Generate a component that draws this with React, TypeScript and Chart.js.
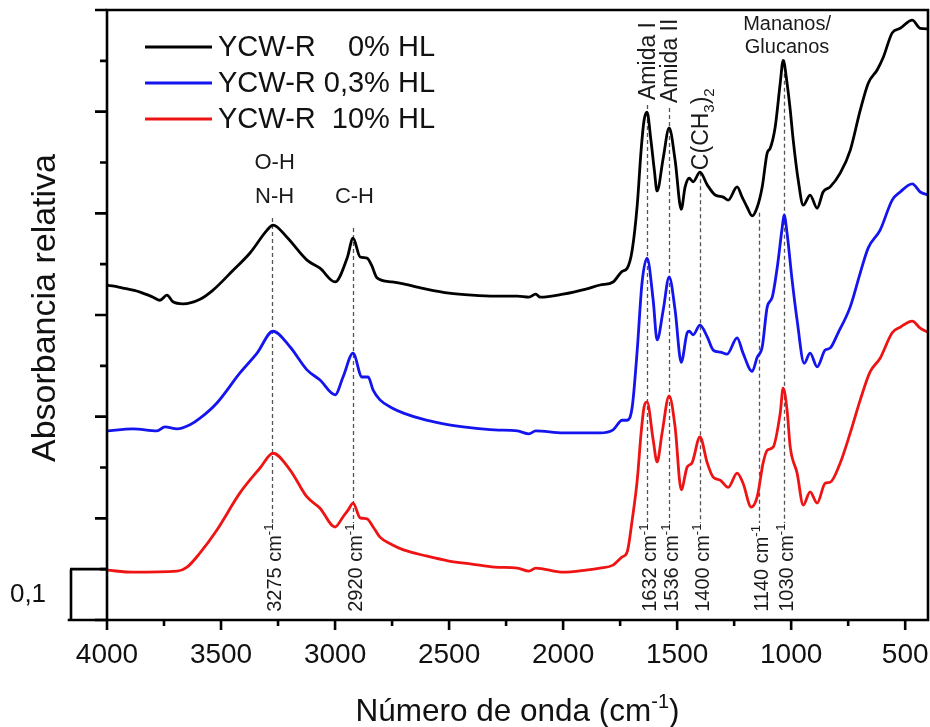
import React, { useEffect, useRef } from 'react';
import { Chart, registerables } from 'chart.js';

Chart.register(...registerables);

const FONT = "'Liberation Sans', Arial, Helvetica, sans-serif";

// ---------------- data ----------------
const seriesLabels = ['YCW-R    0% HL', 'YCW-R 0,3% HL', 'YCW-R  10% HL'];
const seriesColors = ['#000000', '#1414ee', '#ee1414'];

const blackWavenumbers = [4000, 3930, 3855, 3798, 3768, 3737, 3711, 3667, 3592, 3535, 3447, 3373, 3298, 3272, 3211, 3123, 3066, 3000, 2947, 2921, 2890, 2860, 2840, 2816, 2750, 2700, 2600, 2500, 2400, 2300, 2200, 2150, 2120, 2100, 2000, 1900, 1838, 1781, 1741, 1719, 1697, 1675, 1658, 1645, 1632, 1615, 1600, 1588, 1561, 1535, 1509, 1482, 1465, 1447, 1430, 1400, 1368, 1333, 1298, 1276, 1237, 1215, 1193, 1171, 1149, 1127, 1105, 1092, 1070, 1048, 1035, 1018, 1004, 991, 969, 947, 917, 886, 860, 829, 785, 741, 697, 662, 623, 596, 557, 522, 469, 434, 400];
const blackAbsorbance = [0.659, 0.653, 0.645, 0.635, 0.629, 0.639, 0.626, 0.622, 0.631, 0.649, 0.688, 0.722, 0.767, 0.777, 0.753, 0.708, 0.692, 0.665, 0.712, 0.751, 0.714, 0.712, 0.698, 0.673, 0.665, 0.661, 0.651, 0.643, 0.639, 0.637, 0.637, 0.635, 0.641, 0.635, 0.641, 0.651, 0.659, 0.665, 0.686, 0.692, 0.728, 0.816, 0.924, 0.983, 0.999, 0.944, 0.885, 0.844, 0.909, 0.968, 0.905, 0.808, 0.852, 0.869, 0.862, 0.881, 0.856, 0.836, 0.832, 0.826, 0.852, 0.832, 0.812, 0.795, 0.812, 0.852, 0.919, 0.928, 0.970, 1.056, 1.101, 1.056, 1.003, 0.944, 0.865, 0.816, 0.836, 0.810, 0.842, 0.852, 0.879, 0.924, 1.003, 1.056, 1.082, 1.107, 1.155, 1.164, 1.180, 1.164, 1.163];

const blueWavenumbers = [4000, 3886, 3781, 3746, 3693, 3636, 3592, 3518, 3417, 3342, 3272, 3197, 3123, 3066, 3000, 2965, 2921, 2882, 2855, 2833, 2803, 2750, 2700, 2600, 2500, 2400, 2300, 2200, 2150, 2120, 2000, 1900, 1838, 1781, 1741, 1719, 1697, 1675, 1654, 1632, 1605, 1588, 1561, 1535, 1509, 1482, 1456, 1447, 1430, 1400, 1368, 1342, 1311, 1281, 1237, 1211, 1171, 1149, 1127, 1105, 1083, 1061, 1039, 1031, 1018, 996, 974, 943, 917, 886, 851, 829, 794, 741, 697, 662, 610, 557, 522, 469, 434, 400];
const blueAbsorbance = [0.372, 0.376, 0.372, 0.380, 0.376, 0.384, 0.397, 0.427, 0.486, 0.525, 0.568, 0.537, 0.492, 0.472, 0.443, 0.478, 0.525, 0.478, 0.478, 0.452, 0.433, 0.417, 0.407, 0.393, 0.384, 0.378, 0.374, 0.372, 0.366, 0.372, 0.368, 0.368, 0.368, 0.374, 0.393, 0.393, 0.419, 0.531, 0.663, 0.712, 0.629, 0.551, 0.610, 0.675, 0.610, 0.507, 0.565, 0.568, 0.561, 0.580, 0.557, 0.531, 0.527, 0.523, 0.555, 0.525, 0.489, 0.517, 0.537, 0.616, 0.635, 0.694, 0.773, 0.797, 0.761, 0.669, 0.590, 0.505, 0.525, 0.498, 0.531, 0.535, 0.565, 0.616, 0.683, 0.732, 0.767, 0.826, 0.842, 0.858, 0.842, 0.836];

const redWavenumbers = [4000, 3886, 3693, 3649, 3592, 3518, 3417, 3329, 3272, 3197, 3123, 3066, 3000, 2965, 2943, 2921, 2890, 2860, 2833, 2803, 2750, 2700, 2600, 2500, 2400, 2300, 2200, 2150, 2120, 2000, 1900, 1838, 1781, 1741, 1719, 1697, 1675, 1658, 1645, 1632, 1605, 1588, 1566, 1535, 1509, 1482, 1456, 1435, 1400, 1368, 1342, 1311, 1276, 1237, 1211, 1175, 1149, 1123, 1105, 1079, 1048, 1035, 1018, 1004, 974, 947, 917, 886, 851, 829, 785, 741, 697, 654, 610, 557, 522, 469, 434, 400];
const redAbsorbance = [0.098, 0.094, 0.096, 0.104, 0.132, 0.177, 0.250, 0.299, 0.328, 0.295, 0.242, 0.220, 0.183, 0.203, 0.216, 0.230, 0.201, 0.199, 0.183, 0.163, 0.148, 0.138, 0.126, 0.116, 0.110, 0.104, 0.102, 0.096, 0.102, 0.094, 0.098, 0.102, 0.108, 0.124, 0.134, 0.197, 0.275, 0.368, 0.419, 0.429, 0.354, 0.311, 0.368, 0.441, 0.380, 0.256, 0.301, 0.309, 0.360, 0.309, 0.281, 0.275, 0.261, 0.289, 0.269, 0.222, 0.242, 0.309, 0.334, 0.340, 0.407, 0.456, 0.413, 0.340, 0.289, 0.226, 0.252, 0.230, 0.269, 0.271, 0.309, 0.368, 0.433, 0.488, 0.515, 0.565, 0.576, 0.588, 0.574, 0.566];

// axis ticks
const xTickValues = [4000, 3500, 3000, 2500, 2000, 1500, 1000, 500];
const xMinorTickValues = [3750, 3250, 2750, 2250, 1750, 1250, 750];
const yTickValues = [0, 0.1, 0.2, 0.3, 0.4, 0.5, 0.6, 0.7, 0.8, 0.9, 1.0, 1.1, 1.2];

// peak annotations (wavenumber, top of dashed guide in absorbance units)
const peakPositions = [3275, 2920, 1632, 1536, 1400, 1140, 1030];
const peakGuideTops = [0.791, 0.771, 1.013, 1.007, 0.881, 0.801, 1.102];
const peakGuideBottom = 0.191;
const peakLabelStart = 0.016;

// band assignment labels
const horizontalBandLabels = [
  { text: 'O-H', x: 3265, y: 0.899, size: 22 },
  { text: 'N-H', x: 3265, y: 0.832, size: 22 },
  { text: 'C-H', x: 2915, y: 0.832, size: 22 },
  { text: 'Mananos/', x: 1018, y: 1.171, size: 20 },
  { text: 'Glucanos', x: 1018, y: 1.127, size: 20 },
];

type Piece = { t: string; k?: 'sup' | 'sub' };
const verticalBandLabels: { pieces: Piece[]; x: number; y: number }[] = [
  { pieces: [{ t: 'Amida I' }], x: 1632, y: 1.023 },
  { pieces: [{ t: 'Amida II' }], x: 1536, y: 1.017 },
  { pieces: [{ t: 'C(CH' }, { t: '3', k: 'sub' }, { t: ')' }, { t: '2', k: 'sub' }], x: 1400, y: 0.885 },
];

const scaleBarValue = 0.1;
const scaleBarLabel = '0,1';

function drawRich(
  ctx: CanvasRenderingContext2D,
  pieces: Piece[],
  x: number,
  y: number,
  size: number,
  angle: number,
  align: 'left' | 'center',
  baseline: CanvasTextBaseline = 'alphabetic'
) {
  ctx.save();
  ctx.translate(x, y);
  ctx.rotate(angle);
  ctx.textBaseline = baseline;
  ctx.textAlign = 'left';
  const fontFor = (p: Piece) => `${p.k ? Math.round(size * 0.65) : size}px ${FONT}`;
  let total = 0;
  const widths = pieces.map((p) => {
    ctx.font = fontFor(p);
    const w = ctx.measureText(p.t).width;
    total += w;
    return w;
  });
  let cx = align === 'center' ? -total / 2 : 0;
  pieces.forEach((p, i) => {
    ctx.font = fontFor(p);
    const dy = p.k === 'sup' ? -size * 0.42 : p.k === 'sub' ? size * 0.28 : 0;
    ctx.fillText(p.t, cx, dy);
    cx += widths[i];
  });
  ctx.restore();
}

const decorPlugin = {
  id: 'ftirDecor',
  beforeDatasetsDraw(chart: any) {
    const { ctx, scales } = chart;
    const x = scales.x;
    const y = scales.y;
    ctx.save();
    ctx.strokeStyle = '#555555';
    ctx.lineWidth = 1.3;
    ctx.setLineDash([4, 3]);
    peakPositions.forEach((p, i) => {
      const px = Math.round(x.getPixelForValue(p)) + 0.5;
      ctx.beginPath();
      ctx.moveTo(px, y.getPixelForValue(peakGuideTops[i]));
      ctx.lineTo(px, y.getPixelForValue(peakGuideBottom));
      ctx.stroke();
    });
    ctx.restore();
  },
  afterDraw(chart: any) {
    const { ctx, chartArea, scales } = chart;
    const x = scales.x;
    const y = scales.y;
    const { left, right, top, bottom } = chartArea;
    ctx.save();
    ctx.strokeStyle = '#000';
    ctx.lineWidth = 2.6;
    ctx.lineCap = 'square';
    ctx.setLineDash([]);
    // frame
    ctx.beginPath();
    ctx.moveTo(left, top);
    ctx.lineTo(left, bottom);
    ctx.moveTo(left - 38, bottom);
    ctx.lineTo(right, bottom);
    ctx.moveTo(right, bottom);
    ctx.lineTo(right, top);
    ctx.moveTo(left, top);
    ctx.lineTo(right, top);
    ctx.stroke();
    // y ticks
    ctx.lineCap = 'butt';
    ctx.beginPath();
    yTickValues.forEach((v, i) => {
      const py = y.getPixelForValue(v);
      const len = i % 2 === 0 ? 12 : 7;
      ctx.moveTo(left, py);
      ctx.lineTo(left - len, py);
    });
    ctx.stroke();
    // x ticks
    ctx.beginPath();
    xTickValues.forEach((v) => {
      const px = x.getPixelForValue(v);
      ctx.moveTo(px, bottom);
      ctx.lineTo(px, bottom + 10);
    });
    xMinorTickValues.forEach((v) => {
      const px = x.getPixelForValue(v);
      ctx.moveTo(px, bottom);
      ctx.lineTo(px, bottom + 6);
    });
    ctx.stroke();
    // scale bar
    const sbTop = y.getPixelForValue(scaleBarValue);
    const sbBottom = y.getPixelForValue(0);
    ctx.beginPath();
    ctx.moveTo(left, sbTop);
    ctx.lineTo(left - 37, sbTop);
    ctx.moveTo(left - 36, sbTop);
    ctx.lineTo(left - 36, sbBottom);
    ctx.stroke();
    ctx.fillStyle = '#111';
    ctx.font = `26px ${FONT}`;
    ctx.textAlign = 'center';
    ctx.textBaseline = 'middle';
    ctx.fillText(scaleBarLabel, left - 79, y.getPixelForValue(scaleBarValue / 2));

    // legend
    chart.data.datasets.forEach((ds: any, i: number) => {
      const ly = top + 37 + i * 36;
      ctx.strokeStyle = ds.borderColor;
      ctx.lineWidth = 3;
      ctx.beginPath();
      ctx.moveTo(left + 38, ly);
      ctx.lineTo(left + 105, ly);
      ctx.stroke();
      ctx.fillStyle = '#111';
      ctx.font = `29px ${FONT}`;
      ctx.textAlign = 'left';
      ctx.textBaseline = 'middle';
      ctx.fillText(ds.label, left + 111, ly + 1);
    });

    // band labels
    ctx.fillStyle = '#1a1a1a';
    horizontalBandLabels.forEach((l) => {
      drawRich(ctx, [{ t: l.text }], x.getPixelForValue(l.x), y.getPixelForValue(l.y), l.size, 0, 'center', 'middle');
    });
    verticalBandLabels.forEach((l) => {
      drawRich(ctx, l.pieces, x.getPixelForValue(l.x) + 8, y.getPixelForValue(l.y), 23, -Math.PI / 2, 'left');
    });
    peakPositions.forEach((p) => {
      drawRich(
        ctx,
        [{ t: `${p} cm` }, { t: '-1', k: 'sup' }],
        x.getPixelForValue(p) + 9,
        y.getPixelForValue(peakLabelStart),
        20,
        -Math.PI / 2,
        'left'
      );
    });

    // axis titles
    ctx.fillStyle = '#111';
    drawRich(
      ctx,
      [{ t: 'Número de onda (cm' }, { t: '-1', k: 'sup' }, { t: ')' }],
      (left + right) / 2,
      721,
      31.5,
      0,
      'center'
    );
    drawRich(ctx, [{ t: 'Absorbancia relativa' }], left - 61, (top + bottom) / 2 - 7, 34, -Math.PI / 2, 'center', 'middle');
    ctx.restore();
  },
};

export default function App() {
  const canvasRef = useRef<HTMLCanvasElement | null>(null);

  useEffect(() => {
    const canvas = canvasRef.current;
    if (!canvas) return;
    const mk = (xs: number[], ys: number[]) => xs.map((v, i) => ({ x: v, y: ys[i] }));
    const chart = new Chart(canvas, {
      type: 'line',
      data: {
        datasets: [
          { label: seriesLabels[0], data: mk(blackWavenumbers, blackAbsorbance), borderColor: seriesColors[0] },
          { label: seriesLabels[1], data: mk(blueWavenumbers, blueAbsorbance), borderColor: seriesColors[1] },
          { label: seriesLabels[2], data: mk(redWavenumbers, redAbsorbance), borderColor: seriesColors[2] },
        ].map((d) => ({
          ...d,
          borderWidth: 2.8,
          pointRadius: 0,
          fill: false,
          cubicInterpolationMode: 'monotone' as const,
        })),
      },
      options: {
        animation: false,
        responsive: false,
        maintainAspectRatio: false,
        events: [],
        layout: { padding: { left: 107, right: 2, top: 10, bottom: 0 } },
        plugins: { legend: { display: false }, tooltip: { enabled: false } },
        scales: {
          x: {
            type: 'linear',
            reverse: true,
            min: 400,
            max: 4000,
            afterFit: (s: any) => {
              s.height = 107;
              s.paddingLeft = 0;
              s.paddingRight = 0;
            },
            afterBuildTicks: (s: any) => {
              s.ticks = xTickValues.map((v) => ({ value: v }));
            },
            ticks: {
              autoSkip: false,
              maxRotation: 0,
              minRotation: 0,
              padding: 18,
              color: '#111',
              font: { size: 28, family: FONT },
              callback: (v: any) => String(v),
            },
            grid: { display: false, drawTicks: false },
            border: { display: false },
          },
          y: { type: 'linear', display: false, min: 0, max: 1.2 },
        },
      },
      plugins: [decorPlugin],
    });
    return () => chart.destroy();
  }, []);

  return (
    <div style={{ position: 'absolute', left: 0, top: 0, width: 930, height: 727, background: '#fff' }}>
      <canvas ref={canvasRef} width={930} height={727} style={{ display: 'block' }} />
    </div>
  );
}
